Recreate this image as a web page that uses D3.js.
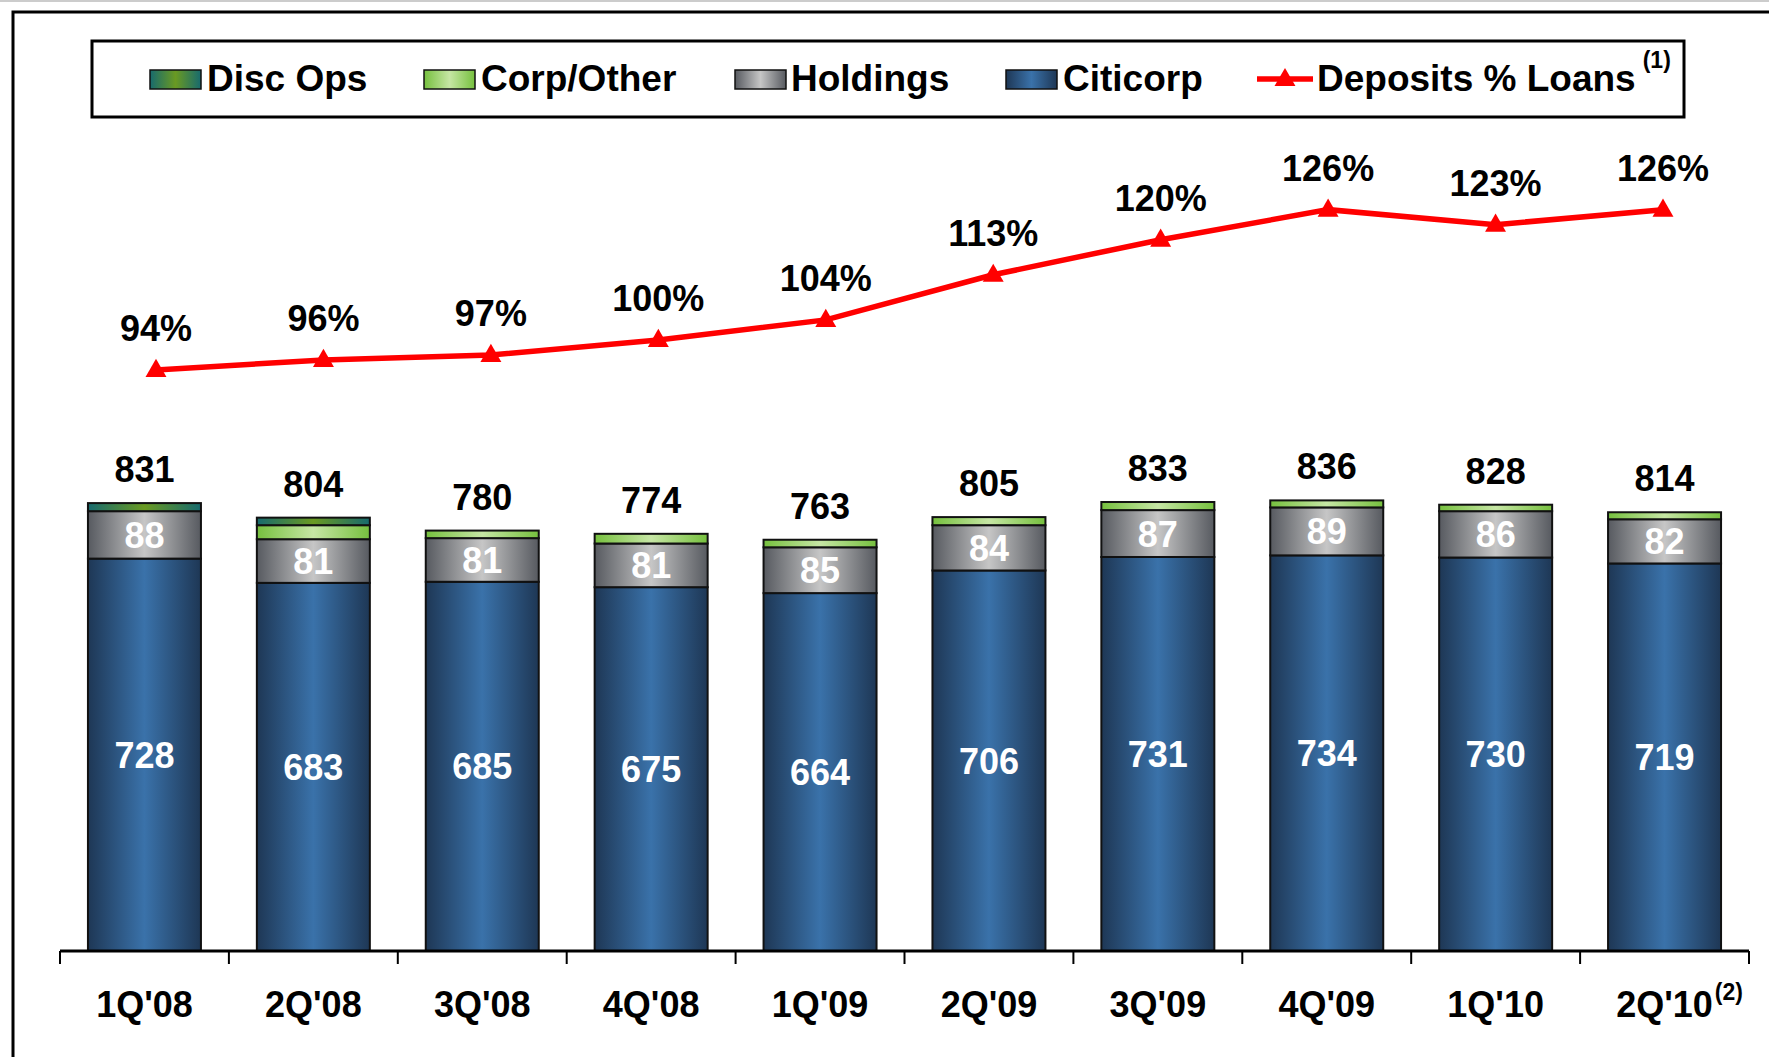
<!DOCTYPE html>
<html>
<head>
<meta charset="utf-8">
<script src="https://cdn.jsdelivr.net/npm/d3@7"></script>
<style>
  body { margin: 0; background: #fff; }
  svg text { font-family: "Liberation Sans", Arial, sans-serif; font-weight: bold; }
</style>
</head>
<body>
<div id="chart"></div>
<script>
// data
var quarters = ["1Q'08", "2Q'08", "3Q'08", "4Q'08", "1Q'09", "2Q'09", "3Q'09", "4Q'09", "1Q'10", "2Q'10"];
var citicorp = [728, 683, 685, 675, 664, 706, 731, 734, 730, 719];
var holdings = [88, 81, 81, 81, 85, 84, 87, 89, 86, 82];
var corpOther = [0, 26, 14, 18, 14, 15, 15, 13, 12, 13];
var discOps = [15, 14, 0, 0, 0, 0, 0, 0, 0, 0];
var totals = [831, 804, 780, 774, 763, 805, 833, 836, 828, 814];
var depositsPct = [94, 96, 97, 100, 104, 113, 120, 126, 123, 126];
var seriesNames = ["Citicorp", "Holdings", "Corp/Other", "Disc Ops"];

var svgWidth = 1769, svgHeight = 1057;
var svg = d3.select("#chart").append("svg")
  .attr("width", svgWidth)
  .attr("height", svgHeight);

// gradients: dark edges, light middle
var defs = svg.append("defs");
var grads = {
  "Citicorp": ["#1e3755", "#3a72aa", "#1e3755"],
  "Holdings": ["#575a60", "#c6c6c6", "#575a60"],
  "Corp/Other": ["#76c03e", "#c6e6a4", "#76c03e"],
  "Disc Ops": ["#176a6e", "#6a9a22", "#176a6e"]
};
seriesNames.forEach(function(name, i) {
  var g = defs.append("linearGradient")
    .attr("id", "grad" + i)
    .attr("x1", "0%").attr("x2", "100%").attr("y1", "0%").attr("y2", "0%");
  g.append("stop").attr("offset", "0%").attr("stop-color", grads[name][0]);
  g.append("stop").attr("offset", "50%").attr("stop-color", grads[name][1]);
  g.append("stop").attr("offset", "100%").attr("stop-color", grads[name][2]);
});

// frame
svg.append("line").attr("x1", 0).attr("x2", svgWidth).attr("y1", 1).attr("y2", 1)
  .attr("stroke", "#ccc").attr("stroke-width", 2);
svg.append("path")
  .attr("d", "M13," + svgHeight + " L13,12 L" + svgWidth + ",12")
  .attr("fill", "none").attr("stroke", "#000").attr("stroke-width", 3);

// scales
var xScale = d3.scaleBand()
  .domain(quarters)
  .range([60, 1749])
  .paddingInner(0.331)
  .paddingOuter(0.1655);
var yScale = d3.scaleLinear().domain([0, 1000]).range([951, 412]);
var xLine = d3.scalePoint().domain(quarters).range([156, 1663]);
var yLine = d3.scaleLinear().domain([90, 130]).range([390, 189.6]);

// stack
var rows = quarters.map(function(q, i) {
  return { q: q, "Citicorp": citicorp[i], "Holdings": holdings[i], "Corp/Other": corpOther[i], "Disc Ops": discOps[i] };
});
var stacked = d3.stack().keys(seriesNames)(rows);

var barGroup = svg.append("g");
stacked.forEach(function(layer, li) {
  barGroup.selectAll(null)
    .data(layer.filter(function(d) { return d[1] - d[0] > 0; }))
    .enter()
    .append("rect")
      .attr("x", function(d) { return xScale(d.data.q); })
      .attr("y", function(d) { return yScale(d[1]); })
      .attr("width", xScale.bandwidth())
      .attr("height", function(d) { return yScale(d[0]) - yScale(d[1]); })
      .attr("fill", "url(#grad" + li + ")")
      .attr("stroke", "#111")
      .attr("stroke-width", 2);
});

// white labels in Citicorp and Holdings segments
[0, 1].forEach(function(li) {
  barGroup.selectAll(null)
    .data(stacked[li])
    .enter()
    .append("text")
      .attr("x", function(d) { return xScale(d.data.q) + xScale.bandwidth() / 2; })
      .attr("y", function(d) { return (yScale(d[0]) + yScale(d[1])) / 2 + 13; })
      .attr("text-anchor", "middle")
      .attr("font-size", "36px")
      .attr("fill", "#fff")
      .text(function(d) { return d[1] - d[0]; });
});

// totals
svg.selectAll(null)
  .data(quarters)
  .enter()
  .append("text")
    .attr("x", function(q) { return xScale(q) + xScale.bandwidth() / 2; })
    .attr("y", function(q, i) {
      var top = citicorp[i] + holdings[i] + corpOther[i] + discOps[i];
      return yScale(top) - 21;
    })
    .attr("text-anchor", "middle")
    .attr("font-size", "36px")
    .attr("fill", "#000")
    .text(function(q, i) { return totals[i]; });

// x axis
var bottomAxis = d3.axisBottom(xScale).tickSize(0).tickPadding(40);
var axisG = svg.append("g")
  .attr("transform", "translate(0, 951)")
  .call(bottomAxis);
axisG.select(".domain").remove();
axisG.selectAll("text")
  .attr("font-size", "36px")
  .attr("fill", "#000")
  .attr("font-family", "Liberation Sans, Arial, sans-serif")
  .attr("font-weight", "bold");
axisG.append("line")
  .attr("x1", 60).attr("x2", 1749).attr("y1", 0).attr("y2", 0)
  .attr("stroke", "#000").attr("stroke-width", 3);
var bounds = quarters.map(function(q) { return xScale(q) - xScale.step() * 0.1655; });
bounds.push(xScale(quarters[quarters.length - 1]) + xScale.bandwidth() + xScale.step() * 0.1655);
axisG.selectAll(".bound")
  .data(bounds)
  .enter()
  .append("line")
    .attr("class", "bound")
    .attr("x1", function(d) { return d; })
    .attr("x2", function(d) { return d; })
    .attr("y1", 0).attr("y2", 13)
    .attr("stroke", "#000").attr("stroke-width", 2);

// footnote (2) on last axis label
var lastLabel = axisG.selectAll(".tick text").filter(function(d) { return d === quarters[quarters.length - 1]; });
var lastW = lastLabel.node().getComputedTextLength();
svg.append("text")
  .attr("x", xScale(quarters[quarters.length - 1]) + xScale.bandwidth() / 2 + lastW / 2 + 2)
  .attr("y", 1000)
  .attr("font-size", "23px")
  .attr("fill", "#000")
  .text("(2)");

// deposits % loans line
var lineData = quarters.map(function(q, i) { return { q: q, v: depositsPct[i] }; });
var line = d3.line()
  .x(function(d) { return xLine(d.q); })
  .y(function(d) { return yLine(d.v); });
svg.append("path")
  .datum(lineData)
  .attr("d", line)
  .attr("fill", "none")
  .attr("stroke", "#ff0000")
  .attr("stroke-width", 5.5);
var tri = d3.symbol().type(d3.symbolTriangle).size(190);
svg.selectAll(null)
  .data(lineData)
  .enter()
  .append("path")
    .attr("d", tri)
    .attr("transform", function(d) { return "translate(" + xLine(d.q) + "," + (yLine(d.v) + 1) + ")"; })
    .attr("fill", "#ff0000");
svg.selectAll(null)
  .data(lineData)
  .enter()
  .append("text")
    .attr("x", function(d) { return xLine(d.q); })
    .attr("y", function(d) { return yLine(d.v) - 29; })
    .attr("text-anchor", "middle")
    .attr("font-size", "36px")
    .attr("fill", "#000")
    .text(function(d) { return d.v + "%"; });

// legend
var legend = svg.append("g");
legend.append("rect")
  .attr("x", 92).attr("y", 41).attr("width", 1592).attr("height", 76)
  .attr("fill", "#fff").attr("stroke", "#000").attr("stroke-width", 3);
var legendItems = [
  { name: "Disc Ops", idx: 3, sx: 150, tx: 207 },
  { name: "Corp/Other", idx: 2, sx: 424, tx: 481 },
  { name: "Holdings", idx: 1, sx: 735, tx: 791 },
  { name: "Citicorp", idx: 0, sx: 1006, tx: 1063 }
];
legendItems.forEach(function(it) {
  legend.append("rect")
    .attr("x", it.sx).attr("y", 70).attr("width", 51).attr("height", 19)
    .attr("fill", "url(#grad" + it.idx + ")")
    .attr("stroke", "#111").attr("stroke-width", 1.5);
  legend.append("text")
    .attr("x", it.tx).attr("y", 91)
    .attr("font-size", "37px")
    .attr("fill", "#000")
    .text(it.name);
});
legend.append("line")
  .attr("x1", 1257).attr("x2", 1313).attr("y1", 79).attr("y2", 79)
  .attr("stroke", "#ff0000").attr("stroke-width", 5.5);
legend.append("path")
  .attr("d", tri)
  .attr("transform", "translate(1285,80)")
  .attr("fill", "#ff0000");
var depText = legend.append("text")
  .attr("x", 1317).attr("y", 91)
  .attr("font-size", "37px")
  .attr("fill", "#000");
depText.append("tspan").text("Deposits % Loans");
depText.append("tspan")
  .attr("dx", 7).attr("dy", -23)
  .attr("font-size", "23px")
  .text("(1)");
</script>
</body>
</html>
